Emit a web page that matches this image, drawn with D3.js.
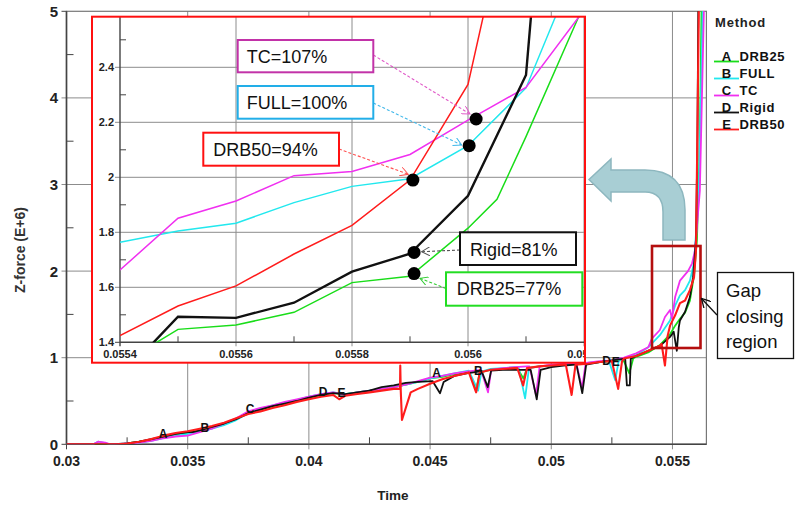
<!DOCTYPE html>
<html><head><meta charset="utf-8">
<script src="https://cdn.jsdelivr.net/npm/d3@7"></script>
<style>body{margin:0;background:#fff}svg{display:block;font-family:"Liberation Sans",Arial,sans-serif}</style>
</head><body><svg id="c" width="795" height="507"></svg>
<script>
// ---------- DATA ----------
const methods = ["DRB25","FULL","TC","Rigid","DRB50"];
const letters = ["A","B","C","D","E"];
const colors = ["#19dd19","#22e8ee","#f030f0","#111111","#ff1c1c"];

const xTicks = [0.03,0.035,0.04,0.045,0.05,0.055];
const yTicks = [0,1,2,3,4,5];
const insetXTicks = [0.0554,0.0556,0.0558,0.056,0.0562];
const insetYTicks = [1.4,1.6,1.8,2,2.2,2.4,2.6];

const mainDRB25 = [[0.030,0],[0.0318,0],[0.0325,0.01],[0.033,0.03],[0.0335,0.05],[0.034,0.08],[0.0345,0.11],[0.035,0.13],[0.0355,0.16],[0.036,0.19],[0.0365,0.23],[0.037,0.29],[0.0375,0.36],[0.038,0.40],[0.0385,0.44],[0.039,0.47],[0.0395,0.50],[0.040,0.54],[0.0405,0.57],[0.041,0.59],[0.0415,0.58],[0.042,0.60],[0.0425,0.62],[0.043,0.64],[0.0435,0.66],[0.044,0.69],[0.0445,0.72],[0.045,0.76],[0.0455,0.78],[0.046,0.81],[0.0466,0.84],[0.0469,0.63],[0.04705,0.83],[0.0475,0.86],[0.048,0.87],[0.0485,0.88],[0.0486,0.88],[0.04885,0.76],[0.049,0.88],[0.0495,0.90],[0.050,0.91],[0.0505,0.92],[0.051,0.93],[0.0515,0.94],[0.052,0.95],[0.0525,0.96],[0.053,0.98],[0.05295,0.99],[0.05322,0.82],[0.05338,0.99],[0.0535,1.01],[0.054,1.06],[0.0545,1.15],[0.0549,1.27],[0.05511,1.37],[0.05531,1.45],[0.05552,1.52],[0.05572,1.66],[0.05589,1.95],[0.05601,2.36],[0.05613,3.5],[0.05621,5.3]];
const mainFULL = [[0.030,0],[0.0311,0],[0.0313,0.03],[0.0315,0.02],[0.0318,0],[0.0325,0.01],[0.033,0.02],[0.0335,0.04],[0.034,0.07],[0.0345,0.10],[0.035,0.12],[0.0355,0.15],[0.036,0.18],[0.0365,0.22],[0.037,0.28],[0.0375,0.36],[0.038,0.41],[0.0385,0.45],[0.039,0.48],[0.0395,0.51],[0.040,0.55],[0.0405,0.58],[0.041,0.60],[0.0415,0.58],[0.042,0.60],[0.0425,0.62],[0.043,0.64],[0.0435,0.66],[0.044,0.69],[0.0445,0.72],[0.045,0.76],[0.0455,0.79],[0.046,0.82],[0.0466,0.85],[0.04698,0.62],[0.04712,0.84],[0.0475,0.87],[0.048,0.88],[0.0485,0.89],[0.04865,0.89],[0.04892,0.53],[0.04908,0.88],[0.0495,0.90],[0.050,0.91],[0.0505,0.92],[0.051,0.93],[0.0515,0.94],[0.052,0.95],[0.05238,0.96],[0.05264,0.74],[0.05278,0.96],[0.053,0.99],[0.0535,1.03],[0.054,1.12],[0.05448,1.26],[0.0549,1.43],[0.05511,1.60],[0.05531,1.72],[0.05552,1.78],[0.05572,1.89],[0.05589,2.1],[0.05609,2.93],[0.05627,5.3]];
const mainTC = [[0.030,0],[0.0311,0],[0.0313,0.03],[0.0316,0.02],[0.0318,0],[0.0325,0.01],[0.033,0.02],[0.0335,0.04],[0.034,0.07],[0.0345,0.09],[0.035,0.10],[0.0355,0.14],[0.036,0.18],[0.0365,0.24],[0.037,0.30],[0.0375,0.38],[0.038,0.42],[0.0385,0.45],[0.039,0.49],[0.0395,0.52],[0.040,0.55],[0.0405,0.58],[0.041,0.60],[0.0415,0.57],[0.042,0.60],[0.0425,0.62],[0.043,0.64],[0.0435,0.66],[0.044,0.69],[0.0445,0.73],[0.045,0.77],[0.0455,0.79],[0.046,0.82],[0.0465,0.84],[0.0471,0.86],[0.04739,0.60],[0.04752,0.86],[0.048,0.88],[0.0485,0.89],[0.049,0.90],[0.0491,0.90],[0.04937,0.57],[0.04952,0.90],[0.050,0.92],[0.0505,0.93],[0.051,0.94],[0.05103,0.94],[0.05127,0.65],[0.05142,0.94],[0.052,0.96],[0.0525,0.97],[0.053,1.00],[0.0535,1.05],[0.054,1.12],[0.05415,1.22],[0.05448,1.32],[0.05469,1.47],[0.0549,1.55],[0.05498,1.45],[0.05511,1.70],[0.05531,1.89],[0.05564,2.0],[0.05581,2.09],[0.05593,2.24],[0.05613,2.93],[0.05632,5.3]];
const mainRigid = [[0.030,0],[0.0322,0],[0.0325,0.01],[0.033,0.03],[0.0335,0.06],[0.034,0.09],[0.0345,0.12],[0.035,0.14],[0.0352,0.14],[0.0355,0.16],[0.036,0.20],[0.0365,0.24],[0.037,0.29],[0.0375,0.36],[0.038,0.40],[0.0385,0.44],[0.039,0.47],[0.0395,0.50],[0.040,0.54],[0.0405,0.57],[0.041,0.59],[0.0415,0.58],[0.042,0.60],[0.0425,0.62],[0.043,0.66],[0.0435,0.68],[0.044,0.71],[0.0445,0.72],[0.0451,0.73],[0.04541,0.59],[0.04556,0.72],[0.046,0.79],[0.0465,0.82],[0.047,0.84],[0.04712,0.85],[0.04738,0.66],[0.04752,0.85],[0.048,0.86],[0.0485,0.86],[0.049,0.86],[0.04915,0.86],[0.0494,0.52],[0.04956,0.86],[0.050,0.89],[0.0505,0.91],[0.051,0.92],[0.05104,0.92],[0.05128,0.59],[0.05144,0.92],[0.052,0.95],[0.0525,0.97],[0.05305,0.99],[0.05312,0.68],[0.05324,0.68],[0.05328,0.99],[0.0535,1.02],[0.054,1.08],[0.0545,1.14],[0.0549,1.24],[0.05505,1.30],[0.05518,1.08],[0.05526,1.35],[0.05531,1.43],[0.05552,1.53],[0.05572,1.70],[0.05585,1.93],[0.05597,2.36],[0.05603,3.5],[0.05607,5.3]];
const mainDRB50 = [[0.030,0],[0.0321,0],[0.0325,0.01],[0.033,0.03],[0.0335,0.06],[0.034,0.10],[0.0345,0.13],[0.035,0.15],[0.0355,0.18],[0.036,0.21],[0.0365,0.25],[0.037,0.30],[0.0375,0.35],[0.038,0.38],[0.0385,0.42],[0.039,0.45],[0.0395,0.49],[0.040,0.52],[0.0405,0.55],[0.041,0.57],[0.04125,0.52],[0.0415,0.56],[0.042,0.58],[0.0425,0.60],[0.043,0.62],[0.0435,0.64],[0.04376,0.64],[0.04377,0.91],[0.04379,0.62],[0.04384,0.28],[0.0442,0.60],[0.0445,0.64],[0.045,0.70],[0.0455,0.75],[0.046,0.79],[0.0465,0.82],[0.0466,0.83],[0.0469,0.60],[0.04705,0.83],[0.0475,0.86],[0.048,0.87],[0.0485,0.88],[0.0486,0.88],[0.04884,0.68],[0.049,0.88],[0.0495,0.90],[0.050,0.91],[0.0505,0.92],[0.0506,0.92],[0.05084,0.57],[0.051,0.92],[0.0515,0.93],[0.052,0.95],[0.0525,0.96],[0.0525,0.96],[0.05276,0.64],[0.05292,0.96],[0.053,0.99],[0.0535,1.02],[0.054,1.08],[0.0545,1.14],[0.05455,1.16],[0.05469,0.91],[0.0548,1.25],[0.0549,1.37],[0.05511,1.49],[0.05531,1.63],[0.05552,1.66],[0.05572,1.78],[0.05589,1.93],[0.05597,2.24],[0.0560,2.93],[0.0561,5.3]];

const insetDRB25 = [[0.05544,1.37],[0.0555,1.447],[0.0556,1.463],[0.0557,1.509],[0.0558,1.617],[0.0559,1.64],[0.056,1.815],[0.05605,1.92],[0.0561,2.148],[0.05619,2.58],[0.0562,2.63]];
const insetFULL = [[0.0554,1.764],[0.0555,1.805],[0.0556,1.833],[0.0557,1.908],[0.0558,1.967],[0.0559,1.995],[0.056,2.115],[0.0561,2.325],[0.05615,2.58],[0.05616,2.62]];
const insetTC = [[0.0554,1.663],[0.0555,1.851],[0.0556,1.914],[0.0557,2.006],[0.0558,2.021],[0.0559,2.083],[0.056,2.208],[0.0561,2.327],[0.05619,2.58],[0.0562,2.6]];
const insetRigid = [[0.05544,1.36],[0.0555,1.493],[0.0556,1.489],[0.0557,1.544],[0.0558,1.657],[0.0559,1.722],[0.056,1.933],[0.0561,2.372],[0.05611,2.62]];
const insetDRB50 = [[0.0554,1.424],[0.0555,1.532],[0.0556,1.605],[0.0557,1.721],[0.0558,1.825],[0.0559,1.99],[0.056,2.338],[0.05603,2.62]];

// highlighted points (time, value) and their labels
const dotLabels = ["TC=107%","FULL=100%","DRB50=94%","Rigid=81%","DRB25=77%"];
const dotPoints = [[0.056014,2.212],[0.056002,2.115],[0.055905,1.99],[0.055907,1.727],[0.055907,1.65]];

// curve letter markers (letter, time, value)
const curveMarks = [["A",0.03398,0.07],["B",0.03571,0.145],["C",0.03757,0.36],["D",0.04059,0.56],["E",0.04135,0.55],["A",0.04527,0.78],["B",0.04699,0.80],["D",0.05228,0.92],["E",0.05266,0.90]];

// ---------- DRAW ----------
const svg = d3.select("#c");
const x = d3.scaleLinear().domain([0.03,0.0564]).range([66.5,706.4]);
const y = d3.scaleLinear().domain([0,5]).range([444.3,11.3]);
const defs = svg.append("defs");
defs.append("clipPath").attr("id","mainClip").append("rect")
  .attr("x",x(0.03)).attr("y",y(5)).attr("width",x(0.0564)-x(0.03)).attr("height",y(0)-y(5));

const gridC = "#8c8c8c", axisC = "#444";
svg.append("g").selectAll("line").data(xTicks.slice(1)).join("line")
  .attr("x1",d=>x(d)).attr("x2",d=>x(d)).attr("y1",y(5)).attr("y2",y(0)+5)
  .attr("stroke",gridC).attr("stroke-width",1);
svg.append("g").selectAll("line").data(yTicks.slice(1,5)).join("line")
  .attr("x1",x(0.03)-5).attr("x2",x(0.0564)).attr("y1",d=>y(d)).attr("y2",d=>y(d))
  .attr("stroke",gridC).attr("stroke-width",1);
const xMinor = [0.0325,0.0375,0.0425,0.0475,0.0525];
svg.append("g").selectAll("line").data(xMinor).join("line")
  .attr("x1",d=>x(d)).attr("x2",d=>x(d)).attr("y1",y(0)).attr("y2",y(0)-7).attr("stroke",axisC);
const yMinor = [0.5,1.5,2.5,3.5,4.5];
svg.append("g").selectAll("line").data(yMinor).join("line")
  .attr("x1",x(0.03)).attr("x2",x(0.03)+7).attr("y1",d=>y(d)).attr("y2",d=>y(d)).attr("stroke",axisC);
svg.append("rect").attr("x",x(0.03)).attr("y",y(5)).attr("width",x(0.0564)-x(0.03)).attr("height",y(0)-y(5))
  .attr("fill","none").attr("stroke","#777").attr("stroke-width",1.2);
svg.append("line").attr("x1",x(0.03)).attr("x2",x(0.0564)).attr("y1",y(0)).attr("y2",y(0)).attr("stroke",axisC).attr("stroke-width",1.6);
svg.append("line").attr("x1",x(0.03)).attr("x2",x(0.03)).attr("y1",y(0)).attr("y2",y(5)).attr("stroke",axisC).attr("stroke-width",1.6);
svg.append("g").selectAll("line").data([0,5]).join("line")
  .attr("x1",x(0.03)-5).attr("x2",x(0.03)).attr("y1",d=>y(d)).attr("y2",d=>y(d)).attr("stroke",axisC);
svg.append("line").attr("x1",x(0.03)).attr("x2",x(0.03)).attr("y1",y(0)).attr("y2",y(0)+5).attr("stroke",axisC);
svg.append("g").selectAll("text").data(xTicks).join("text")
  .attr("x",d=>x(d)).attr("y",466).attr("text-anchor","middle")
  .attr("font-size",14).attr("font-weight","bold").attr("fill","#222").text(d=>d3.format("")(d));
svg.append("g").selectAll("text").data(yTicks).join("text")
  .attr("x",58).attr("y",d=>y(d)+5.5).attr("text-anchor","end")
  .attr("font-size",15).attr("font-weight","bold").attr("fill","#222").text(d=>d);
svg.append("text").attr("x",393).attr("y",500).attr("text-anchor","middle")
  .attr("font-size",13.5).attr("font-weight","bold").attr("fill","#222").text("Time");
svg.append("text").attr("transform","translate(25,250) rotate(-90)").attr("text-anchor","middle")
  .attr("font-size",14).attr("font-weight","bold").attr("fill","#333").text("Z-force (E+6)");

// main lines
const mainSeries = [mainDRB25,mainFULL,mainTC,mainRigid,mainDRB50];
const line = d3.line().x(d=>x(d[0])).y(d=>y(d[1]));
const mg = svg.append("g").attr("clip-path","url(#mainClip)");
mg.selectAll("path").data(mainSeries).join("path")
  .attr("d",line).attr("fill","none").attr("stroke",(d,i)=>colors[i])
  .attr("stroke-width",(d,i)=>i===4?2.1:1.8).attr("stroke-linejoin","round");
mg.selectAll("text").data(curveMarks).join("text")
  .attr("x",d=>x(d[1])).attr("y",d=>y(d[2])).attr("text-anchor","middle")
  .attr("font-size",12).attr("font-weight","bold").attr("fill","#111").text(d=>d[0]);

// legend
svg.append("text").attr("x",715).attr("y",27).attr("font-size",13).attr("font-weight","bold").attr("letter-spacing",0.8).attr("fill","#222").text("Method");
const lg = svg.append("g").selectAll("g").data(methods).join("g")
  .attr("transform",(d,i)=>`translate(0,${61+i*17})`);
lg.append("line").attr("x1",714).attr("x2",739).attr("y1",0.5).attr("y2",0.5)
  .attr("stroke",(d,i)=>colors[i]).attr("stroke-width",1.8);
lg.append("text").attr("x",726.5).attr("y",-0.5).attr("text-anchor","middle").attr("font-size",13).attr("font-weight","bold").attr("fill","#111").text((d,i)=>letters[i]);
lg.append("text").attr("x",739.5).attr("y",-0.5).attr("font-size",13).attr("font-weight","bold").attr("letter-spacing",0.6).attr("fill","#111").text(d=>d);

// big curved arrow (annotation)
svg.append("path")
  .attr("d","M589,179.5 L611,159 L611,170 L645,170 Q685,170 685,210 L685,240 L663,240 L663,212 Q663,192 645,192 L611,192 L611,201 Z")
  .attr("fill","#a8ced4").attr("stroke","#8db7bf").attr("stroke-width",1.5);

// gap closing box
svg.append("rect").attr("x",652).attr("y",246).attr("width",48.5).attr("height",102)
  .attr("fill","none").attr("stroke","#b40f0f").attr("stroke-width",2.6);
defs.append("marker").attr("id","mk_gap").attr("viewBox","0 0 10 10").attr("refX",9).attr("refY",5)
  .attr("markerWidth",10).attr("markerHeight",10).attr("markerUnits","userSpaceOnUse").attr("orient","auto")
  .append("path").attr("d","M0,0 L9,5 L0,10").attr("fill","none").attr("stroke","#111").attr("stroke-width",1.3);
svg.append("line").attr("x1",717).attr("y1",315).attr("x2",701.5).attr("y2",298.5)
  .attr("stroke","#111").attr("stroke-width",1.3).attr("marker-end","url(#mk_gap)");
svg.append("rect").attr("x",717.5).attr("y",272.5).attr("width",76).attr("height",86)
  .attr("fill","#fff").attr("stroke","#111").attr("stroke-width",1.3);
svg.append("g").selectAll("text").data(["Gap","closing","region"]).join("text")
  .attr("x",726).attr("y",(d,i)=>297+i*25.5).attr("font-size",18.5).attr("fill","#111").text(d=>d);

// ---------- INSET ----------
const ix = d3.scaleLinear().domain([0.0554,0.0562]).range([120,584]);
const iy = d3.scaleLinear().domain([1.4,2.6]).range([342.3,12.3]);
const bx0=92, by0=16.7, bx1=585, by1=362.7;
defs.append("clipPath").attr("id","insetClip").append("rect").attr("x",bx0).attr("y",by0).attr("width",bx1-bx0).attr("height",by1-by0);
defs.append("clipPath").attr("id","insetPlot").append("rect").attr("x",120).attr("y",by0).attr("width",bx1-120).attr("height",342.3-by0);
svg.append("rect").attr("x",bx0).attr("y",by0).attr("width",bx1-bx0).attr("height",by1-by0).attr("fill","#fff");
const ig = svg.append("g").attr("clip-path","url(#insetClip)");
ig.append("g").selectAll("line").data(insetXTicks.slice(1)).join("line")
  .attr("x1",d=>ix(d)).attr("x2",d=>ix(d)).attr("y1",by0).attr("y2",iy(1.4)+4).attr("stroke",gridC);
ig.append("g").selectAll("line").data(insetYTicks.slice(1)).join("line")
  .attr("x1",115).attr("x2",bx1).attr("y1",d=>iy(d)).attr("y2",d=>iy(d)).attr("stroke",gridC);
const ixMinor=[0.0555,0.0557,0.0559,0.0561], iyMinor=[1.5,1.7,1.9,2.1,2.3,2.5];
ig.append("g").selectAll("line").data(ixMinor).join("line")
  .attr("x1",d=>ix(d)).attr("x2",d=>ix(d)).attr("y1",iy(1.4)).attr("y2",iy(1.4)-6).attr("stroke",axisC);
ig.append("g").selectAll("line").data(iyMinor).join("line")
  .attr("x1",120).attr("x2",126).attr("y1",d=>iy(d)).attr("y2",d=>iy(d)).attr("stroke",axisC);
ig.append("line").attr("x1",120).attr("x2",bx1).attr("y1",iy(1.4)).attr("y2",iy(1.4)).attr("stroke",axisC).attr("stroke-width",1.4);
ig.append("line").attr("x1",120).attr("x2",120).attr("y1",by0).attr("y2",iy(1.4)+4).attr("stroke",axisC).attr("stroke-width",1.4);
ig.append("line").attr("x1",115).attr("x2",120).attr("y1",iy(1.4)).attr("y2",iy(1.4)).attr("stroke",axisC);
ig.append("g").selectAll("text").data(insetXTicks).join("text")
  .attr("x",d=>ix(d)).attr("y",358).attr("text-anchor","middle").attr("font-size",11).attr("font-weight","bold").attr("fill","#222")
  .text(d=>d3.format("")(d));
ig.append("g").selectAll("text").data(insetYTicks).join("text")
  .attr("x",114).attr("y",d=>iy(d)+4).attr("text-anchor","end").attr("font-size",11).attr("font-weight","bold").attr("fill","#222")
  .text(d=>d);
const insetSeries=[insetDRB25,insetFULL,insetTC,insetRigid,insetDRB50];
const iline = d3.line().x(d=>ix(d[0])).y(d=>iy(d[1]));
ig.append("g").attr("clip-path","url(#insetPlot)").selectAll("path").data(insetSeries).join("path")
  .attr("d",iline).attr("fill","none").attr("stroke",(d,i)=>colors[i]).attr("stroke-width",(d,i)=>i===3?2.4:1.5);
ig.append("g").selectAll("circle").data(dotPoints).join("circle")
  .attr("cx",d=>ix(d[0])).attr("cy",d=>iy(d[1])).attr("r",6.5).attr("fill","#000");
svg.append("rect").attr("x",bx0).attr("y",by0).attr("width",bx1-bx0).attr("height",by1-by0)
  .attr("fill","none").attr("stroke","#ff1010").attr("stroke-width",2);

// annotation boxes + dashed arrows
const boxC = ["#c232a8","#22aee8","#ff1010","#111","#22dd22"];
const arrC = ["#e05ac8","#40b8ea","#ff5050","#555","#33cc33"];
const boxes = [[237.7,40,135.6,32.3,246.7,62.5],[237.7,86,135.6,32.7,246.7,109],[203.3,132.7,135.7,33,213.3,155.7],[460,232.3,116,32.7,470,255.7],[446,272.3,136.3,33.4,456.7,295]];
const arrows = [[373.3,55,470,114],[373.3,103,461.7,145],[339,149,408.3,174.3],[460,250,421.7,251.7],[446,288.5,420,278.3]];
arrC.forEach((c,i)=>{
  defs.append("marker").attr("id","mk"+i).attr("viewBox","0 0 10 10").attr("refX",9).attr("refY",5)
   .attr("markerWidth",9).attr("markerHeight",9).attr("markerUnits","userSpaceOnUse").attr("orient","auto")
   .append("path").attr("d","M0,0 L9,5 L0,10").attr("fill","none").attr("stroke",c).attr("stroke-width",1.1);
});
svg.append("g").selectAll("line").data(arrows).join("line")
  .attr("x1",d=>d[0]).attr("y1",d=>d[1]).attr("x2",d=>d[2]).attr("y2",d=>d[3])
  .attr("stroke",(d,i)=>arrC[i]).attr("stroke-width",1.1).attr("stroke-dasharray","3,2")
  .attr("marker-end",(d,i)=>`url(#mk${i})`);
const bg = svg.append("g").selectAll("g").data(boxes).join("g");
bg.append("rect").attr("x",d=>d[0]).attr("y",d=>d[1]).attr("width",d=>d[2]).attr("height",d=>d[3])
  .attr("fill","#fff").attr("stroke",(d,i)=>boxC[i]).attr("stroke-width",2);
bg.append("text").attr("x",d=>d[4]).attr("y",d=>d[5]).attr("font-size",18).attr("fill","#111").text((d,i)=>dotLabels[i]);
</script></body></html>
